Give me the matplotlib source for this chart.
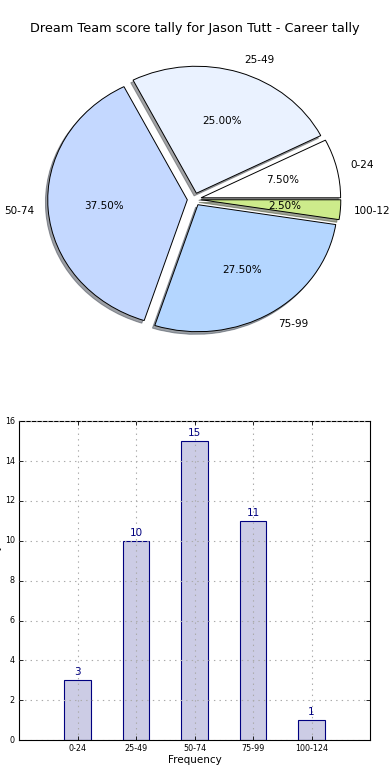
import matplotlib
matplotlib.use('Agg')
from matplotlib import pyplot as plt
import numpy as np

##############
### inputs ###
##############

bands = ['0-24', '25-49', '50-74', '75-99', '100-124']
counts = [3, 10, 15, 11, 1]
pie_colors = ['#FFFFFF', '#EAF2FF', '#C4D8FF', '#B4D6FF', '#CDEB8B']
title = 'Dream Team score tally for Jason Tutt - Career tally'

############
### MAIN ###
############

plt.style.use('classic')
plt.rcParams['font.family'] = 'DejaVu Sans'

fig = plt.figure(figsize=(3.9, 7.8), dpi=100, facecolor='white')

# pie on top (old style, no equal aspect -> slightly squashed)
ax1 = fig.add_axes([0.049, 0.541, 0.9, 0.407])
wedges, texts, autotexts = ax1.pie(counts, labels=bands, colors=pie_colors,
                                   explode=[0.05] * len(counts),
                                   autopct='%1.2f%%',
                                   shadow={'ox': -0.012, 'oy': -0.015},
                                   wedgeprops={'linewidth': 0.7,
                                               'edgecolor': 'black'},
                                   textprops={'fontsize': 7.5})
ax1.set_aspect('auto')
ax1.set_xlim(-1.255, 1.26)
ax1.set_ylim(-1.25, 1.25)
ax1.set_title(title, fontsize=9.3, pad=6)

# bar chart below
ax2 = fig.add_axes([0.049, 0.051, 0.9, 0.409])
ind = np.arange(len(bands))
bars = ax2.bar(ind, counts, width=0.45, align='center',
               color='#CCCCE5', edgecolor='#000080', linewidth=0.8)
for x, c in zip(ind, counts):
    ax2.text(x, c + 0.15, str(c), ha='center', va='bottom',
             color='#000080', fontsize=7.5)
ax2.set_xlim(-1, 5)
ax2.set_ylim(0, 16)
ax2.set_yticks(np.arange(0, 17, 2))
ax2.set_xticks(ind)
ax2.set_xticklabels(bands)
ax2.tick_params(labelsize=5.8, length=3, width=0.6, pad=3)
ax2.grid(True, color='#aaaaaa', linestyle=':', linewidth=0.8)
ax2.set_axisbelow(False)
ax2.set_xlabel('Frequency', fontsize=7.5, labelpad=1)
ax2.set_ylabel('Scores in Tally', fontsize=7.5, labelpad=2)
for s in ax2.spines.values():
    s.set_linewidth(0.8)

fig.savefig('out.png', dpi=100, facecolor='white')
